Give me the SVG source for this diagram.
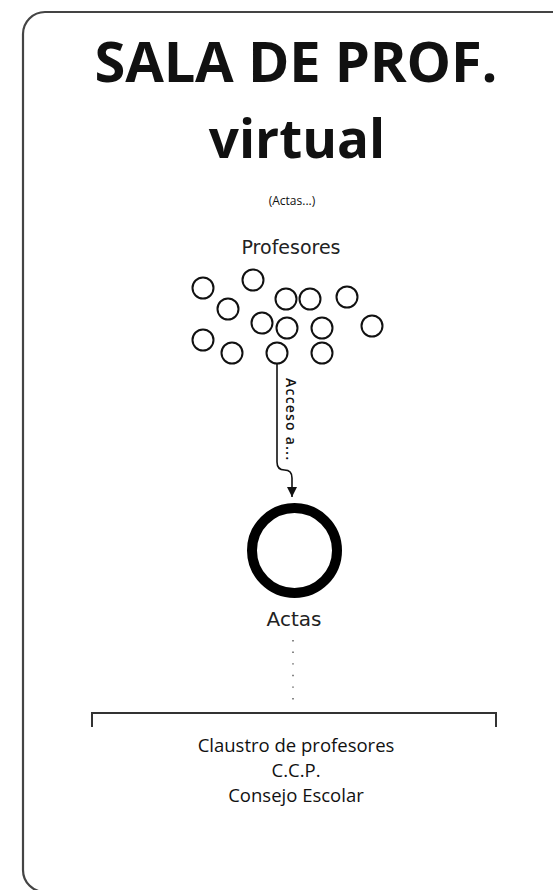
<svg xmlns="http://www.w3.org/2000/svg" width="553" height="890" viewBox="0 0 553 890">
<style>
.t{font-family:"Open Sans","Liberation Sans",sans-serif;fill:#111;text-anchor:middle}
.d{font-family:"DejaVu Sans","Liberation Sans",sans-serif;fill:#222;text-anchor:middle}
.b{font-weight:bold}
.small{fill:none;stroke:#111;stroke-width:2}
.conn{fill:none;stroke:#111;stroke-width:1.6}
</style>
<defs>
<marker id="arr" markerWidth="12" markerHeight="12" refX="10" refY="5" orient="auto" markerUnits="userSpaceOnUse">
<path d="M0,0 L10,5 L0,10 Z" fill="#111"/>
</marker>
</defs>
<rect x="23" y="12" width="560" height="880" rx="22" fill="#fff" stroke="#444" stroke-width="2.2"/>
<g id="title">
<text class="t b" x="296" y="82" font-size="56" textLength="403">SALA DE PROF.</text>
<text class="t b" x="297" y="158" font-size="53">virtual</text>
<text class="t" x="292" y="205" font-size="12">(Actas...)</text>
</g>
<g id="profesores">
<text class="d" x="291" y="254" font-size="19">Profesores</text>
<circle class="small" cx="203" cy="288" r="10.5"/>
<circle class="small" cx="253" cy="280" r="10.5"/>
<circle class="small" cx="286" cy="299" r="10.5"/>
<circle class="small" cx="310" cy="299" r="10.5"/>
<circle class="small" cx="347" cy="297" r="10.5"/>
<circle class="small" cx="228" cy="309" r="10.5"/>
<circle class="small" cx="262" cy="323" r="10.5"/>
<circle class="small" cx="287" cy="328" r="10.5"/>
<circle class="small" cx="322" cy="328" r="10.5"/>
<circle class="small" cx="372" cy="326" r="10.5"/>
<circle class="small" cx="203" cy="340" r="10.5"/>
<circle class="small" cx="232" cy="353" r="10.5"/>
<circle class="small" cx="277" cy="353" r="10.5"/>
<circle class="small" cx="322" cy="353" r="10.5"/>
</g>
<g id="connectors">
<path class="conn" d="M277,364 L277,462 Q277,470 284.5,470 Q292,470 292,478 L292,497" marker-end="url(#arr)"/>
<text class="t" font-size="14" font-weight="600" transform="translate(286,378) rotate(90)" style="text-anchor:start" textLength="82">Acceso a...</text>
<line x1="293" y1="640" x2="293" y2="702" stroke="#555" stroke-width="1.4" stroke-dasharray="1.4,10.2"/>
</g>
<g id="actas">
<circle cx="294.5" cy="550.5" r="42.5" fill="none" stroke="#000" stroke-width="10"/>
<text class="d" x="294" y="626" font-size="20">Actas</text>
</g>
<g id="organos">
<path d="M92,727 L92,713 L496,713 L496,727" fill="none" stroke="#333" stroke-width="2"/>
<text class="t" x="296" y="752" font-size="18.5">Claustro de profesores</text>
<text class="t" x="296" y="777" font-size="18.5">C.C.P.</text>
<text class="t" x="296" y="802" font-size="18.5">Consejo Escolar</text>
</g>
</svg>
